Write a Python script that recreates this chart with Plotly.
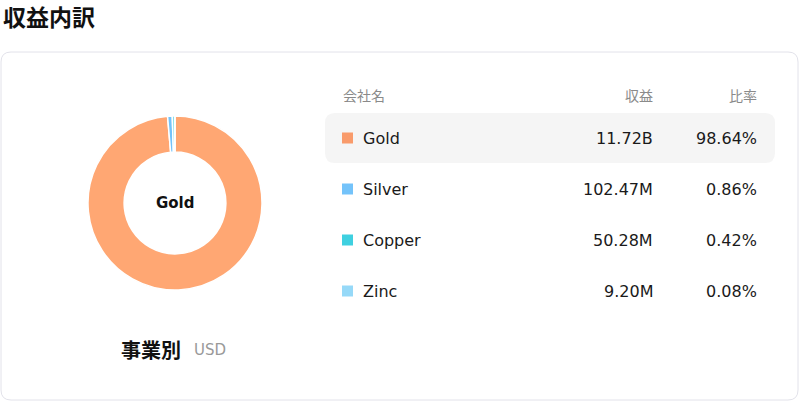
import plotly.graph_objects as go

# data
companies = ["Gold", "Silver", "Copper", "Zinc"]
revenue_musd = [11720.0, 102.47, 50.28, 9.20]
slice_colors = ["#FFA773", "#74C3FA", "#3FD0E0", "#96D9F8"]
square_colors = ["#F99B6B", "#74C3FA", "#3FD0E0", "#96D9F8"]

title_text = "収益内訳"
header_labels = ["会社名", "収益", "比率"]
subtitle_text = "事業別"
unit_text = "USD"

W, H = 800, 402
FONT = "DejaVu Sans, Noto Sans CJK JP, sans-serif"
CJK = "Noto Sans CJK JP, DejaVu Sans, sans-serif"


def fmt_money(v):
    """format a value given in millions"""
    if v >= 1000:
        return "%.2fB" % (v / 1000)
    return "%.2fM" % v


def rounded_rect(x0, y0, x1, y1, r):
    """svg path for a rounded rectangle in pixel-like data coords"""
    return (f"M {x0 + r},{y0} L {x1 - r},{y0} Q {x1},{y0} {x1},{y0 + r} "
            f"L {x1},{y1 - r} Q {x1},{y1} {x1 - r},{y1} "
            f"L {x0 + r},{y1} Q {x0},{y1} {x0},{y1 - r} "
            f"L {x0},{y0 + r} Q {x0},{y0} {x0 + r},{y0} Z")


total = sum(revenue_musd)
shares = [v / total * 100 for v in revenue_musd]

fig = go.Figure()

# invisible trace so the pixel axes exist
fig.add_trace(go.Scatter(x=[0, W], y=[0, H], mode="markers",
                         marker=dict(opacity=0), hoverinfo="skip", showlegend=False))

cx, cy, rad = 175, 203, 87
fig.add_trace(go.Pie(
    labels=companies,
    values=revenue_musd,
    hole=0.585,
    sort=False,
    direction="clockwise",
    rotation=0,
    textinfo="none",
    marker=dict(colors=slice_colors, line=dict(color="white", width=1.5)),
    domain=dict(x=[(cx - rad) / W, (cx + rad) / W],
                y=[1 - (cy + rad) / H, 1 - (cy - rad) / H]),
    showlegend=False,
))

shapes = [
    dict(type="path", path=rounded_rect(1, 52, 798, 400, 10), xref="x", yref="y",
         line=dict(color="#E2E2EA", width=1), fillcolor="white", layer="below"),
    dict(type="path", path=rounded_rect(325, 113, 775, 163, 10), xref="x", yref="y",
         line=dict(width=0), fillcolor="#F5F5F5", layer="below"),
]

annotations = [
    dict(x=1, y=16, text="<b>%s</b>" % title_text, xanchor="left",
         font=dict(family=CJK, size=23, color="#111111")),
    dict(x=cx, y=cy, text="<b>%s</b>" % companies[0], xanchor="center",
         font=dict(family=FONT, size=15, color="#111111")),
    dict(x=183, y=349, text="<b>%s</b>" % subtitle_text, xanchor="right",
         font=dict(family=CJK, size=20, color="#111111")),
    dict(x=192, y=350, text=unit_text, xanchor="left",
         font=dict(family=FONT, size=15, color="#999999")),
    dict(x=341, y=95, text=header_labels[0], xanchor="left",
         font=dict(family=CJK, size=14, color="#8A8A8A")),
    dict(x=655, y=95, text=header_labels[1], xanchor="right",
         font=dict(family=CJK, size=14, color="#8A8A8A")),
    dict(x=759, y=95, text=header_labels[2], xanchor="right",
         font=dict(family=CJK, size=14, color="#8A8A8A")),
]

row_y = [138, 189, 240, 291]
for i, name in enumerate(companies):
    y = row_y[i]
    shapes.append(dict(type="rect", x0=342, x1=353, y0=y - 5.5, y1=y + 5.5,
                       xref="x", yref="y", line=dict(width=0),
                       fillcolor=square_colors[i]))
    annotations.append(dict(x=361, y=y, text=name, xanchor="left",
                            font=dict(family=FONT, size=16, color="#1A1A1A")))
    annotations.append(dict(x=655, y=y, text=fmt_money(revenue_musd[i]), xanchor="right",
                            font=dict(family=FONT, size=16, color="#1A1A1A")))
    annotations.append(dict(x=759, y=y, text="%.2f%%" % shares[i], xanchor="right",
                            font=dict(family=FONT, size=16, color="#1A1A1A")))

for a in annotations:
    a.update(xref="x", yref="y", showarrow=False, yanchor="middle")

fig.update_layout(
    width=W, height=H, autosize=False,
    margin=dict(l=0, r=0, t=0, b=0),
    paper_bgcolor="white", plot_bgcolor="rgba(0,0,0,0)",
    xaxis=dict(range=[0, W], visible=False, fixedrange=True),
    yaxis=dict(range=[H, 0], visible=False, fixedrange=True),
    shapes=shapes,
    annotations=annotations,
    hovermode="closest",
)

# the page body has a default 8px margin, drop it so the figure fills the window
fig.write_html("out.html", config={"displayModeBar": False},
               post_script="document.body.style.margin='0';document.body.style.overflow='hidden';")
